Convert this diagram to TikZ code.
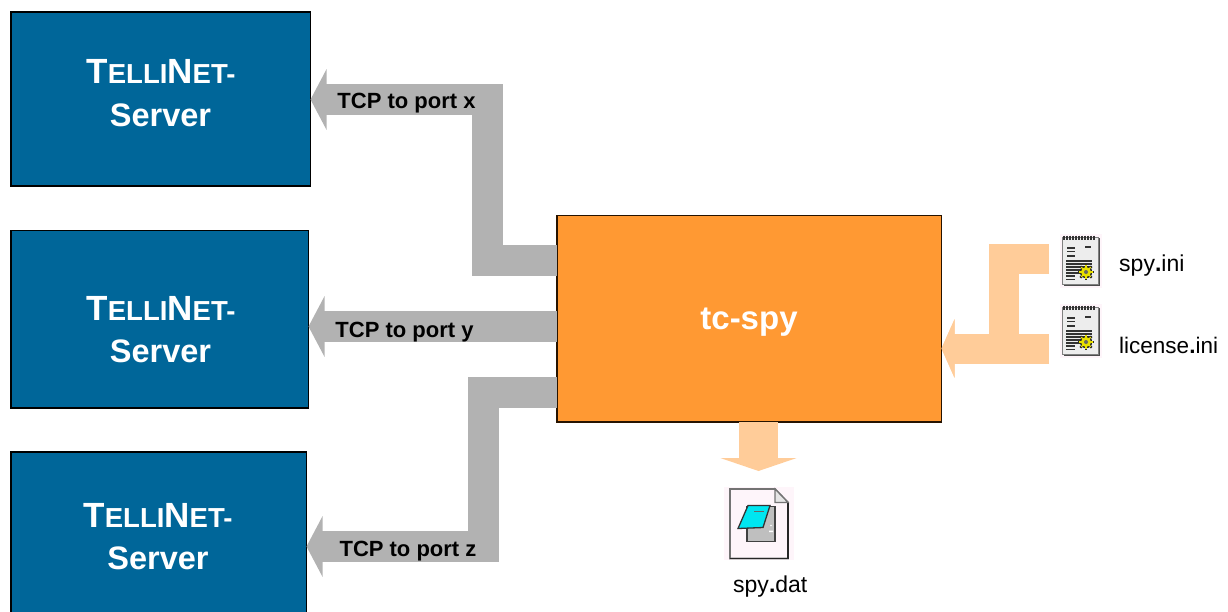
\documentclass[tikz,border=0pt]{standalone}
\usepackage{fontspec}
\setmainfont{Liberation Sans}
\usetikzlibrary{arrows.meta}
\definecolor{srvblue}{HTML}{006699}
\definecolor{spyorange}{HTML}{FF9933}
\definecolor{tcpgrey}{HTML}{B2B2B2}
\definecolor{peach}{HTML}{FFCC99}
\definecolor{datcyan}{HTML}{00E6F0}
\definecolor{gearyellow}{HTML}{E8E000}
\tikzset{
  serverbox/.style={draw=black,line width=1.6pt,fill=srvblue,rectangle,inner sep=0pt,outer sep=0pt,anchor=north west},
  spybox/.style={draw=black!85!orange,line width=1.6pt,fill=spyorange,rectangle,inner sep=0pt,outer sep=0pt,anchor=north west,
     minimum width=384.5pt,minimum height=206.5pt},
  spytext/.style={font=\bfseries\fontsize{33}{33}\selectfont,text=white,anchor=base,inner sep=0pt},
  servertext/.style={text=white,font=\bfseries,anchor=base,inner sep=0pt},
  tcplabel/.style={font=\bfseries\fontsize{22}{22}\selectfont,anchor=base,inner sep=0pt,text=black},
  filelabel/.style={font=\fontsize{23}{23}\selectfont,anchor=base west,inner sep=0pt,text=black},
  iconspot/.style={inner sep=0pt,minimum width=38pt,minimum height=51pt},
  tcparrow/.style={draw=tcpgrey,line width=31pt,line join=miter,-{Triangle[length=16pt,width=60pt]}},
  filearrow/.style={draw=peach,line width=30pt,line join=miter,-{Triangle[length=13pt,width=58pt]}},
  outarrow/.style={draw=peach,line width=39pt,-{Triangle[length=13pt,width=76pt]}},
}
\newcommand{\bigT}[1]{{\fontsize{35}{35}\selectfont #1}}
\newcommand{\smallT}[1]{{\fontsize{27.5}{27.5}\selectfont #1}}
\newcommand{\tellinet}{\bigT{T}\smallT{ELLI}\bigT{N}\smallT{ET-}}
\newcommand{\servername}{\fontsize{32.5}{32.5}\selectfont Server}
\newcommand{\iniicon}[1]{%
  \begin{scope}[shift={(#1)},xshift=-19pt,yshift=25.5pt]
    \fill[white!96!magenta] (-2,-1) rectangle (40,53);
    \fill[black!70] (2,3) rectangle (38,51);
    \fill[black!7,draw=black!50,line width=1pt] (0,2) rectangle (36,49);
    \foreach \k in {2,5,...,32} \draw[black!80,line width=1.6pt] (\k,0.5) -- (\k,4.5);
    \draw[black!80,line width=1.3pt] (5,13) -- (13,13) (5,16.5) -- (13,16.5) (23,12) -- (29,12) (5,21) -- (13,21)
       (4,26) -- (30,26) (4,29) -- (30,29) (4,32) -- (30,32) (4,35) -- (20,35) (4,38) -- (18,38)
       (4,41) -- (13,41) (4,44.5) -- (13,44.5);
    \foreach \a in {0,45,...,315} \draw[black!85,line width=2.2pt] (24,37) -- ++(\a:8);
    \fill[black!85] (24,37) circle (6.2);
    \fill[gearyellow] (24,37) circle (5);
    \foreach \a in {0,45,...,315} \draw[gearyellow,line width=1.2pt] (24,37) -- ++(\a:6.8);
    \fill[black!60] (24,37) circle (2);
  \end{scope}}
\newcommand{\daticon}[1]{%
  \begin{scope}[shift={(#1)}]
    \fill[white!96!magenta] (-35,-36.5) rectangle (35,36.5);
    \fill[white!96!magenta,draw=black!55,line width=1.8pt] (-29,-34.5) -- (16,-34.5) -- (29,-21) -- (29,35) -- (-29,35) -- cycle;
    \draw[black!85,line width=1.8pt] (29,-21) -- (29,35) -- (-29,35);
    \fill[black!10,draw=black!55,line width=1.2pt] (16,-34.5) -- (16,-21) -- (29,-21) -- cycle;
    \fill[black!25,draw=black!75,line width=1.6pt] (-12,-17) -- (16,-17) -- (16,18) -- (-12,18) -- cycle;
    \fill[white] (12,2) circle (.8) (10,7) rectangle (14,8.5);
    \fill[datcyan,draw=black!80,line width=1.3pt] (-11,-18) -- (11,-18) -- (4,4) -- (-21,5) -- cycle;
    \draw[black!60,line width=1pt] (-5,-12) -- (5,-12);
  \end{scope}}
\begin{document}
\begin{tikzpicture}[x=1pt,y=-1pt]
  \useasboundingbox (0,0) rectangle (1228,611);
  \clip (0,0) rectangle (1228,611);

  \node[serverbox,minimum width=299.5pt,minimum height=174pt] (srvA) at (11,12) {};
  \node[serverbox,minimum width=297.5pt,minimum height=177.5pt] (srvB) at (11,230.5) {};
  \node[serverbox,minimum width=295.5pt,minimum height=190pt] (srvC) at (11,452) {};
  \node[spybox] (spy) at (557,215.5) {};

  \node[spytext] (spyname) at (749,329) {tc-spy};
  \node[servertext] (srvAa) at (161,83) {\tellinet};
  \node[servertext] (srvAb) at (160.5,126) {\servername};
  \node[servertext] (srvBa) at (161,320) {\tellinet};
  \node[servertext] (srvBb) at (160.5,362) {\servername};
  \node[servertext] (srvCa) at (158,527) {\tellinet};
  \node[servertext] (srvCb) at (158,569) {\servername};

  \node[iconspot] (iniA) at (1081,260.5) {};
  \node[iconspot] (iniB) at (1081,330.5) {};
  \node[inner sep=0pt,minimum width=70pt,minimum height=73pt] (dat) at (759,523.5) {};
  \coordinate (datTop) at (758.5,471);
  \coordinate (feedA) at (1049,259);
  \coordinate (feedB) at (1049,348.5);

  % TCP connectors
  \draw[tcparrow] (spy.west |- 0,260.5) -- (487.5,260.5) -- (487.5,99.5) -- (srvA.east |- 0,99.5);
  \draw[tcparrow] (spy.west |- 0,326.5) -- (srvB.east |- 0,326.5);
  \draw[tcparrow] (spy.west |- 0,392) -- (483.5,392) -- (483.5,546.5) -- (srvC.east |- 0,546.5);

  % file connectors
  \draw[filearrow] (feedA) -- (1004,259) -- (1004,348.5) -- (spy.east |- feedB);
  \draw[filearrow] (feedB) -- (spy.east |- feedB);
  \draw[outarrow] (datTop |- spy.south) -- (datTop);

  \iniicon{iniA.center}
  \iniicon{iniB.center}
  \daticon{dat.center}

  \node[tcplabel] (tcpx) at (406.5,108) {TCP to port x};
  \node[tcplabel] (tcpy) at (404.5,337) {TCP to port y};
  \node[tcplabel] (tcpz) at (408,556) {TCP to port z};

  \node[filelabel] (lblA) at (1119,271) {spy{\bfseries .}ini};
  \node[filelabel] (lblB) at (1119,353) {\fontsize{22.5}{22.5}\selectfont license{\bfseries .}ini};
  \node[filelabel] (lblC) at (733,592) {spy{\bfseries .}dat};
\end{tikzpicture}
\end{document}
